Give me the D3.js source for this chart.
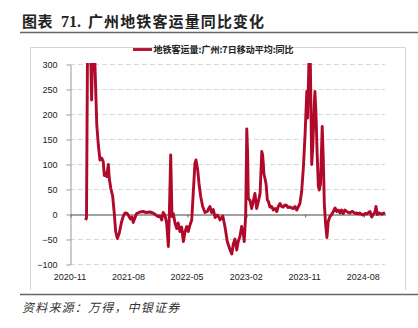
<!DOCTYPE html>
<html>
<head>
<meta charset="utf-8">
<script src="https://cdn.jsdelivr.net/npm/d3@7"></script>
<style>
  html, body { margin: 0; padding: 0; background: #fff; }
  svg { display: block; }
  .cjk { font-family: "Noto Sans CJK SC", sans-serif; }
</style>
</head>
<body>
<svg id="chart" width="418" height="328"></svg>
<script>
// Guangzhou metro ridership, 7-day moving average, year-on-year change (%)
const dates = [
  "2021-01-12","2021-01-17","2021-01-22","2021-01-29","2021-02-05","2021-02-10","2021-02-15","2021-02-21","2021-02-26",
  "2021-03-06","2021-03-13","2021-03-21","2021-03-29","2021-04-05","2021-04-10","2021-04-16","2021-04-21","2021-04-29",
  "2021-05-03","2021-05-11","2021-05-19","2021-05-27","2021-06-02","2021-06-10","2021-06-19","2021-06-30","2021-07-09",
  "2021-07-16","2021-07-26","2021-08-05","2021-08-10","2021-08-17","2021-08-23","2021-08-29","2021-09-08","2021-09-24",
  "2021-10-08","2021-10-22","2021-11-09","2021-11-23","2021-12-07","2021-12-17","2021-12-26","2022-01-03","2022-01-10",
  "2022-01-18","2022-01-26","2022-02-03","2022-02-07","2022-02-14","2022-02-20","2022-02-26","2022-03-06","2022-03-14",
  "2022-03-21","2022-03-29","2022-04-06","2022-04-14","2022-04-22","2022-04-30","2022-05-07","2022-05-15","2022-05-23",
  "2022-05-30","2022-06-07","2022-06-12","2022-06-20","2022-06-26","2022-07-04","2022-07-13","2022-07-24","2022-08-04",
  "2022-08-09","2022-08-16","2022-08-24","2022-09-01","2022-09-09","2022-09-19","2022-09-25","2022-10-02","2022-10-15",
  "2022-10-25","2022-11-05","2022-11-18","2022-11-26","2022-12-03","2022-12-11","2022-12-19","2022-12-26","2023-01-03",
  "2023-01-11","2023-01-19","2023-01-23","2023-01-30","2023-02-04","2023-02-08","2023-02-11","2023-02-19","2023-02-27",
  "2023-03-06","2023-03-14","2023-03-22","2023-03-30","2023-04-07","2023-04-15","2023-04-19","2023-04-22","2023-04-25",
  "2023-04-30","2023-05-05","2023-05-11","2023-05-16","2023-05-23","2023-05-31","2023-06-08","2023-06-16","2023-06-24",
  "2023-07-01","2023-07-09","2023-07-17","2023-07-24","2023-08-01","2023-08-09","2023-08-15","2023-08-25","2023-09-02",
  "2023-09-09","2023-09-17","2023-09-25","2023-10-02","2023-10-10","2023-10-18","2023-10-26","2023-11-03","2023-11-11",
  "2023-11-15","2023-11-18","2023-11-22","2023-11-27","2023-12-04","2023-12-09","2023-12-16","2023-12-19","2023-12-24",
  "2023-12-29","2024-01-04","2024-01-08","2024-01-14","2024-01-22","2024-01-27","2024-02-01","2024-02-07","2024-02-13",
  "2024-02-19","2024-02-27","2024-03-06","2024-03-14","2024-03-22","2024-03-30","2024-04-06","2024-04-14","2024-04-21",
  "2024-04-29","2024-05-07","2024-05-15","2024-05-24","2024-05-31","2024-06-08","2024-06-15","2024-06-23","2024-07-01",
  "2024-07-09","2024-07-16","2024-07-24","2024-08-01","2024-08-09","2024-08-17","2024-08-25","2024-09-01","2024-09-09",
  "2024-09-16","2024-09-24","2024-09-29","2024-10-05","2024-10-11","2024-10-18","2024-10-26","2024-11-02","2024-11-10"
];
const yoyValues = [
  -12, -8, 350, 420, 330, 228, 340, 380, 290,
  178, 139, 108, 112, 105, 77, 82, 75, 99,
  72, 50, 36, 0, -35, -49, -38, -15, -3,
  2, 1, -6, -10, -6, -17, -10, 1, 4,
  5, 3, 4, 2, -2, -5, -4, -12, 3,
  -2, -18, -65, -10, 118, -5, 1, -18, -29,
  -18, -35, -26, -55, -35, -25, -35, -22, -12,
  41, 101, 108, 88, 61, 35, 15, 3, 5,
  10, 15, 3, 9, -7, -2, -5, -12, -4,
  -25, -55, -72, -80, -60, -50, -72, -55, -45,
  -25, -40, -55, 0, 170, 120, 31, 27, 11,
  25, 41, 11, 25, 41, 125, 118, 101, 80,
  71, 60, 28, 25, 14, 15, 8, 11, 5,
  15, 21, 15, 14, 18, 17, 13, 14, 12,
  11, 15, 8, 14, 21, 45, 92, 159, 245,
  192, 252, 320, 318, 99, 135, 219, 245, 200,
  125, 55, 48, 60, 175, 110, 19, -21, -47,
  -15, -5, -1, 5, 12, 5, 8, 2, 8,
  1, 8, 5, 3, 2, 5, 4, 1, 2,
  0, 2, -1, -2, 1, 0, 3, 5, -6,
  -1, 4, 15, -1, 2, 1, 0, 1, 3
];
const xTickLabels = ["2020-11", "2021-08", "2022-05", "2023-02", "2023-11", "2024-08"];
const yTickValues = [-100, -50, 0, 50, 100, 150, 200, 250, 300];
const seriesName = "地铁客运量:广州:7日移动平均:同比";

const parseDay = d3.utcParse("%Y-%m-%d");
const parseMonth = d3.utcParse("%Y-%m");
const series = dates.map((d, i) => ({ date: parseDay(d), value: yoyValues[i] }));

const svg = d3.select("#chart");
const plot = { left: 70, right: 385, top: 64, bottom: 264 };
const red = "#b0092a";
const numFont = "Liberation Sans, Arial, sans-serif";

const x = d3.scaleUtc()
  .domain([parseMonth("2020-11"), parseDay("2024-11-10")])
  .range([plot.left, plot.right]);
const y = d3.scaleLinear().domain([-100, 300]).range([plot.bottom, plot.top]);

// Title and rules
svg.append("text").attr("class", "cjk").attr("x", 22).attr("y", 27)
  .attr("font-size", 15).attr("font-weight", 700).attr("fill", "#222")
  .attr("letter-spacing", 0.6).text("图表");
svg.append("text").attr("x", 61).attr("y", 27)
  .attr("font-family", "Liberation Serif, serif")
  .attr("font-size", 16).attr("font-weight", 700).attr("fill", "#222").text("71.");
svg.append("text").attr("class", "cjk").attr("x", 88).attr("y", 27)
  .attr("font-size", 15).attr("font-weight", 700).attr("fill", "#222")
  .attr("letter-spacing", 2.9)
  .text("广州地铁客运量同比变化")
  .attr("textLength", 179).attr("lengthAdjust", "spacing");
svg.append("line").attr("x1", 20).attr("x2", 418).attr("y1", 32.5).attr("y2", 32.5)
  .attr("stroke", "#666").attr("stroke-width", 1.6);
svg.append("line").attr("x1", 20).attr("x2", 418).attr("y1", 294.5).attr("y2", 294.5)
  .attr("stroke", "#666").attr("stroke-width", 1.6);

// Chart frame (left, top, right)
svg.append("path")
  .attr("d", "M30.5,290 V47.5 H405.5 V290")
  .attr("fill", "none").attr("stroke", "#d4d4d4").attr("stroke-width", 1);

// Legend
svg.append("line").attr("x1", 133).attr("x2", 152).attr("y1", 49.5).attr("y2", 49.5)
  .attr("stroke", red).attr("stroke-width", 2.8);
svg.append("text").attr("class", "cjk").attr("x", 153.5).attr("y", 53)
  .attr("font-size", 9).attr("font-weight", 700).attr("fill", "#222").text(seriesName);

// Horizontal dashed gridlines
svg.append("g").selectAll("line")
  .data(yTickValues.filter(v => v !== 0))
  .join("line")
  .attr("x1", plot.left).attr("x2", plot.right)
  .attr("y1", d => Math.round(y(d)) + 0.5).attr("y2", d => Math.round(y(d)) + 0.5)
  .attr("stroke", "#d9d9d9").attr("stroke-width", 1).attr("stroke-dasharray", "5,3");

// Y axis
const yAxis = svg.append("g")
  .attr("transform", `translate(${plot.left + 0.5},0.5)`)
  .call(d3.axisLeft(y).tickValues(yTickValues).tickSize(4).tickPadding(9).tickSizeOuter(0));
yAxis.select(".domain").attr("stroke", "#999");
yAxis.selectAll(".tick line").attr("stroke", "#999");
yAxis.selectAll(".tick text").attr("font-size", 9).attr("fill", "#222")
  .attr("font-family", numFont);

// Zero line with date ticks
const xAxis = svg.append("g")
  .attr("transform", `translate(0.5,${Math.round(y(0)) + 0.5})`)
  .call(d3.axisBottom(x).tickValues(xTickLabels.map(parseMonth)).tickSize(3).tickSizeOuter(0).tickFormat(""));
xAxis.select(".domain").attr("stroke", "#444").attr("stroke-width", 1.1);
xAxis.selectAll(".tick line").attr("stroke", "#666");

// Date labels along the bottom
svg.append("g").selectAll("text")
  .data(xTickLabels)
  .join("text")
  .attr("x", d => x(parseMonth(d)))
  .attr("y", 280)
  .attr("text-anchor", "middle")
  .attr("font-family", numFont)
  .attr("font-size", 9).attr("fill", "#222")
  .text(d => d);

// Series line, clipped to the plot area
svg.append("clipPath").attr("id", "plotClip")
  .append("rect").attr("x", plot.left).attr("y", plot.top - 1)
  .attr("width", plot.right - plot.left + 2).attr("height", plot.bottom - plot.top + 2);

const line = d3.line().x(d => x(d.date)).y(d => y(d.value)).curve(d3.curveLinear);
svg.append("path")
  .datum(series)
  .attr("clip-path", "url(#plotClip)")
  .attr("fill", "none")
  .attr("stroke", red)
  .attr("stroke-width", 2.9)
  .attr("stroke-linejoin", "round")
  .attr("d", line);

// Source note
svg.append("text").attr("class", "cjk").attr("x", 22).attr("y", 312)
  .attr("font-size", 12).attr("font-style", "italic").attr("fill", "#333")
  .attr("letter-spacing", 1.2).text("资料来源：万得，中银证券");
</script>
</body>
</html>
